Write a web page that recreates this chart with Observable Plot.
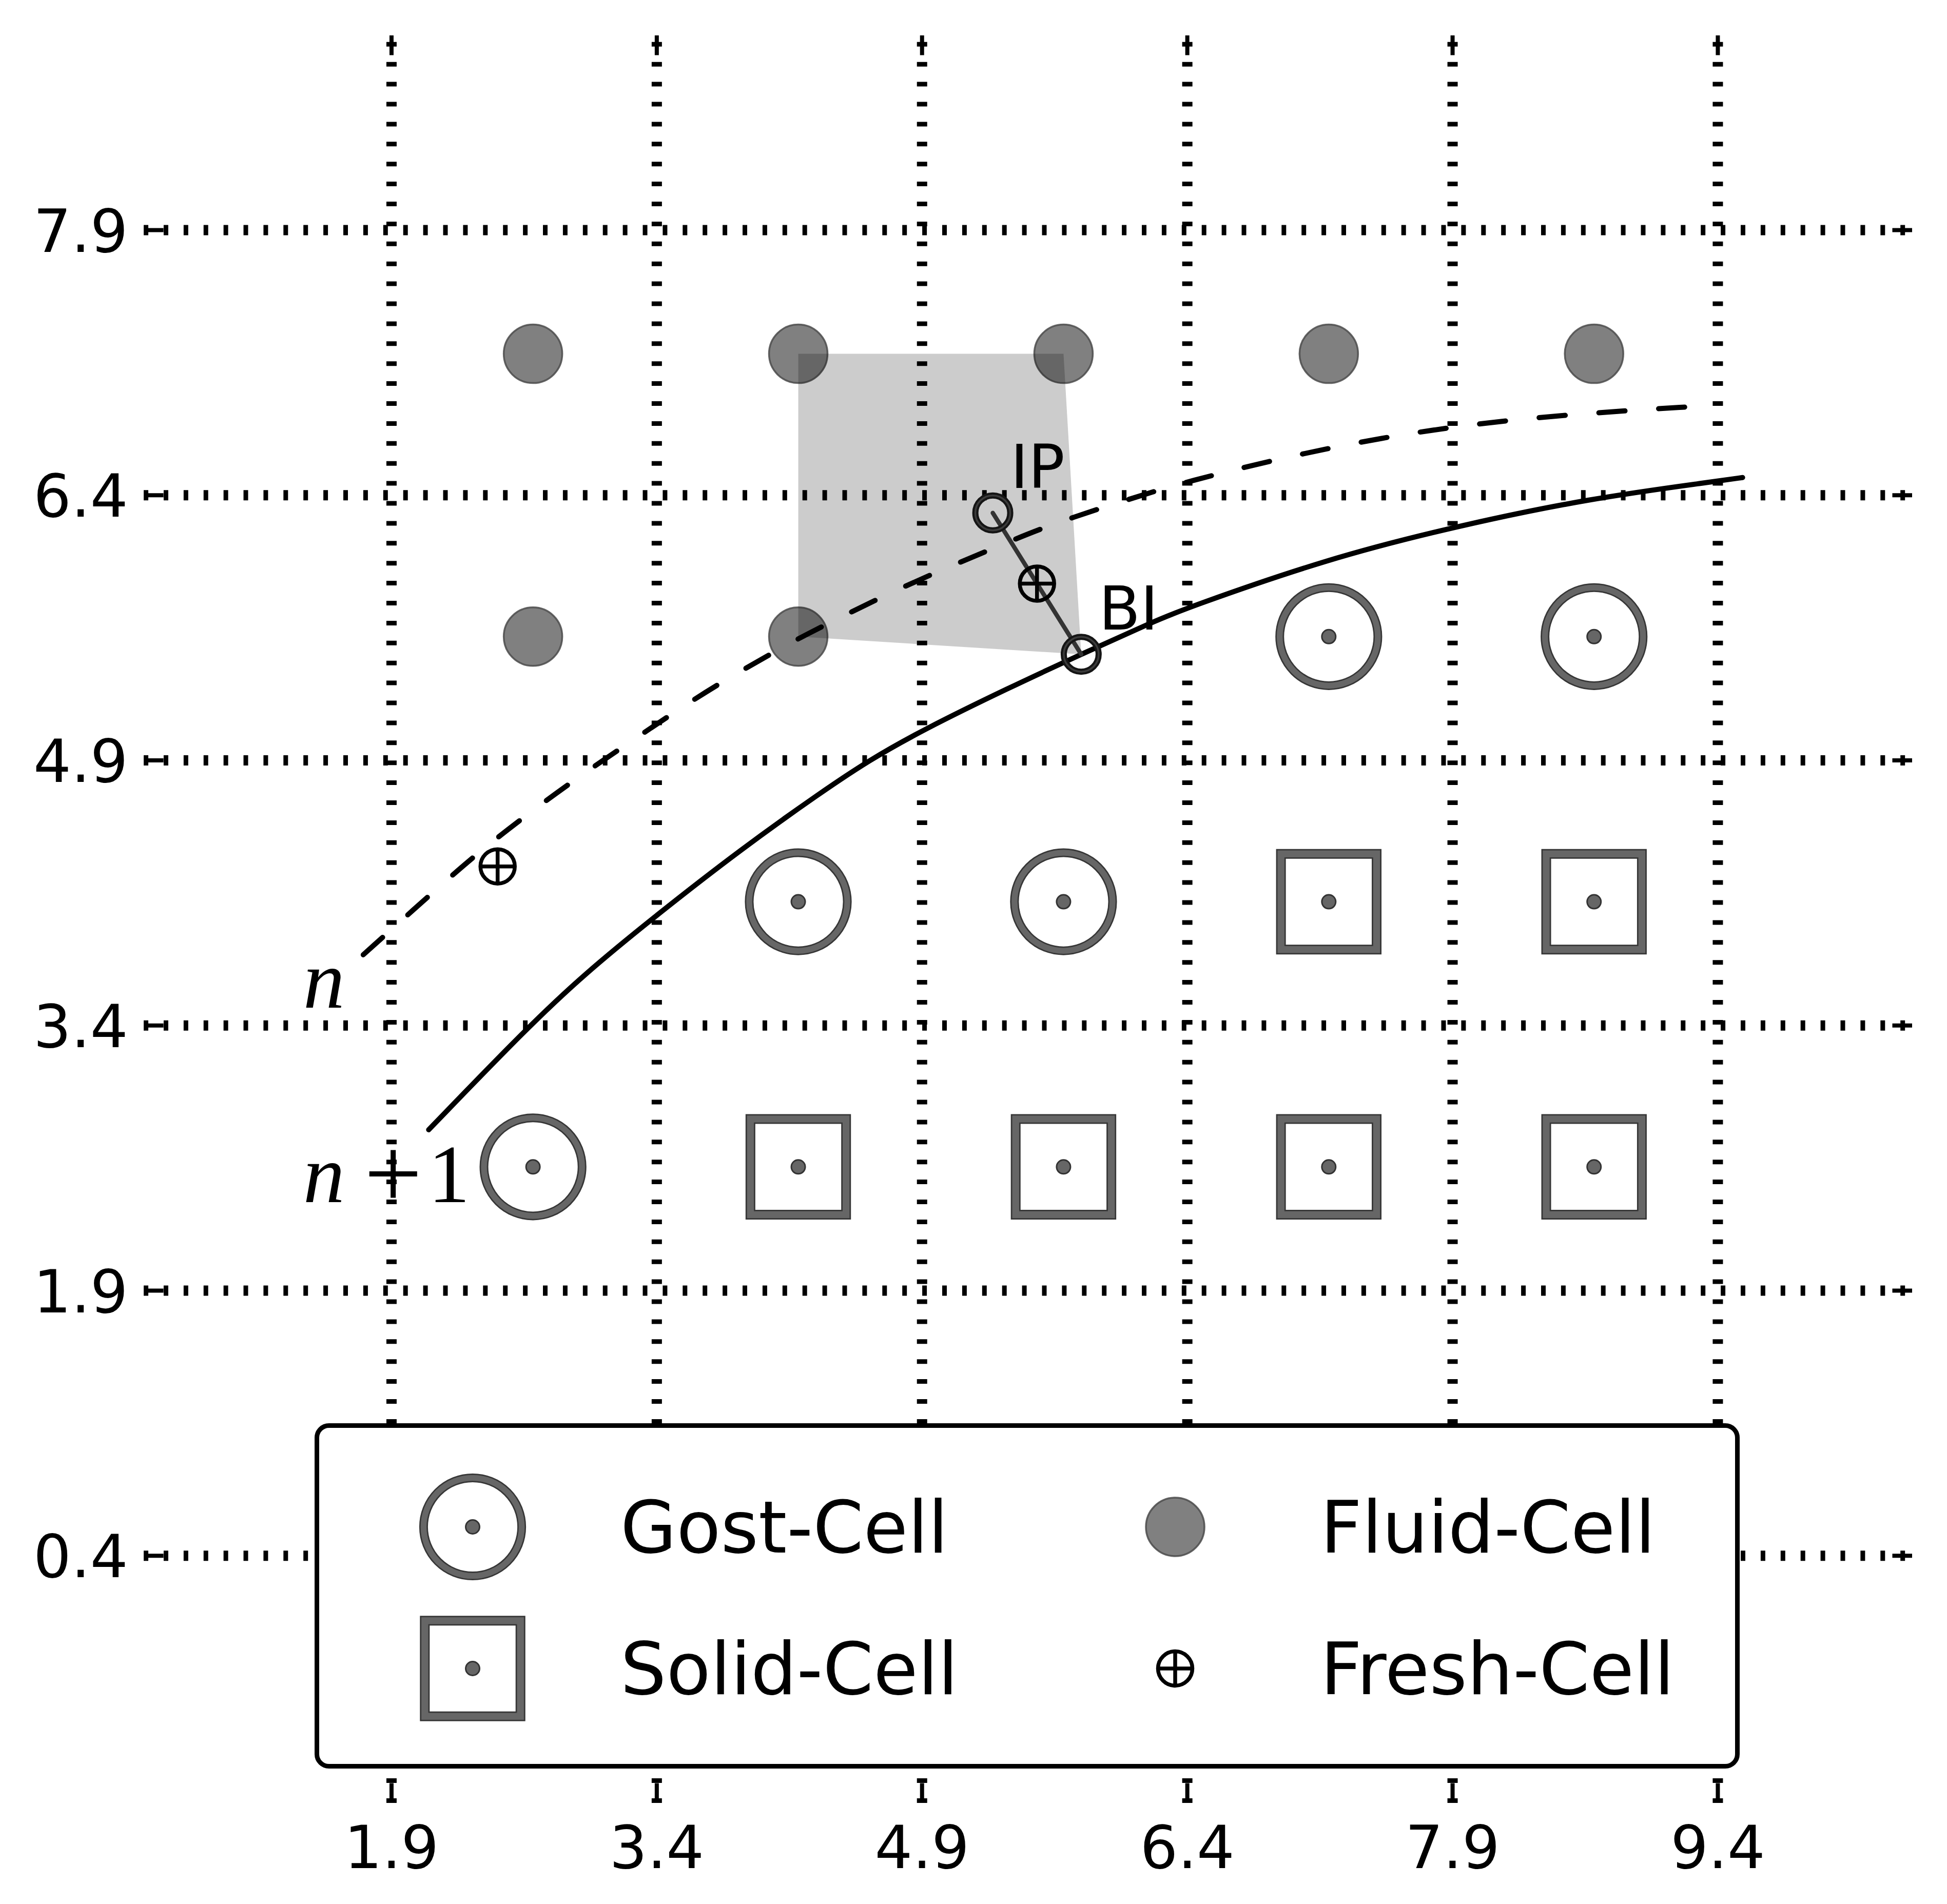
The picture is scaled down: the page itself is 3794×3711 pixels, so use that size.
<!DOCTYPE html>
<html>
<head>
<meta charset="utf-8">
<script src="https://cdn.jsdelivr.net/npm/d3@7"></script>
<script src="https://cdn.jsdelivr.net/npm/@observablehq/plot@0.6"></script>
<style>
html, body { margin: 0; padding: 0; background: #fff; overflow: hidden; }
#wrap { position: relative; width: 3794px; height: 3711px; }
#legend { position: absolute; left: 613px; top: 2774px; width: 2777px; height: 673px;
  box-sizing: border-box; border: 9px solid #000; border-radius: 28px; background: #fff; }
#legend svg { position: absolute; left: 0; top: 0; }
</style>
</head>
<body>
<div id="wrap"></div>
<script>
// ---------- data ----------
const xTicks = [1.9, 3.4, 4.9, 6.4, 7.9, 9.4];
const yTicks = [0.4, 1.9, 3.4, 4.9, 6.4, 7.9];
const xDomain = [0.5, 10.5];
const yDomain = [-1, 9];

const fluidX = [2.7, 4.2, 5.7, 7.2, 8.7, 2.7, 4.2];
const fluidY = [7.2, 7.2, 7.2, 7.2, 7.2, 5.6, 5.6];
const ghostX = [7.2, 8.7, 4.2, 5.7, 2.7];
const ghostY = [5.6, 5.6, 4.1, 4.1, 2.6];
const solidX = [7.2, 8.7, 4.2, 5.7, 7.2, 8.7];
const solidY = [4.1, 4.1, 2.6, 2.6, 2.6, 2.6];
const freshX = [2.5, 5.55];
const freshY = [4.3, 5.9];
const probeNames = ["IP", "BI"];
const probeX = [5.3, 5.8];
const probeY = [6.3, 5.5];
const probeLabelX = [5.4, 5.9];
const probeLabelY = [6.44, 5.64];
const stencilX = [4.2, 5.7, 5.8, 4.2];
const stencilY = [7.2, 7.2, 5.5, 5.6];

// interface at time n (dashed)
const curveNX = [1.74, 2.13, 2.38, 2.65, 2.92, 3.20, 3.48, 3.76, 4.06, 4.20, 4.66, 4.97, 5.28, 5.59, 5.92, 6.24, 6.38, 6.88, 7.56, 8.23, 8.90, 9.24];
const curveNY = [3.80, 4.15, 4.37, 4.58, 4.78, 4.97, 5.16, 5.34, 5.51, 5.59, 5.82, 5.96, 6.09, 6.22, 6.33, 6.43, 6.47, 6.60, 6.74, 6.83, 6.88, 6.90];
// interface at time n+1 (solid)
const curveN1X = [2.11, 2.67, 2.99, 3.38, 3.88, 4.33, 4.60, 4.90, 5.39, 5.80, 6.22, 6.39, 7.19, 7.90, 8.66, 9.40, 9.54];
const curveN1Y = [2.81, 3.39, 3.69, 4.01, 4.40, 4.72, 4.90, 5.07, 5.31, 5.50, 5.69, 5.76, 6.04, 6.22, 6.38, 6.48, 6.50];

const curveLabels = ["n", "n+1"];
const curveLabelX = [1.4, 1.4];
const curveLabelY = [3.5, 2.4];

const legendLabels = ["Gost-Cell", "Fluid-Cell", "Solid-Cell", "Fresh-Cell"];
const legendKinds = ["ghost", "fluid", "solid", "fresh"];

// ---------- helpers ----------
const zipXY = (xs, ys) => xs.map((x, i) => ({x, y: ys[i]}));
const fluid = zipXY(fluidX, fluidY);
const ghost = zipXY(ghostX, ghostY);
const solid = zipXY(solidX, solidY);
const fresh = zipXY(freshX, freshY);
const probes = probeNames.map((name, i) => ({name, x: probeX[i], y: probeY[i], lx: probeLabelX[i], ly: probeLabelY[i]}));
const stencil = zipXY(stencilX, stencilY);
const curveN = zipXY(curveNX, curveNY);
const curveN1 = zipXY(curveN1X, curveN1Y);
const curveText = curveLabels.map((label, i) => ({label, x: curveLabelX[i], y: curveLabelY[i]}));

const oplus = {
  draw(context, size) {
    const r = Math.sqrt(size / Math.PI);
    context.moveTo(r, 0);
    context.arc(0, 0, r, 0, 2 * Math.PI);
    context.moveTo(-r, 0); context.lineTo(r, 0);
    context.moveTo(0, -r); context.lineTo(0, r);
  }
};

const W = 3794, H = 3711;
const mL = 280, mR = 68, mT = 69, mB = 197;
const plotW = W - mL - mR, plotH = H - mT - mB;
const tickLen = 38.5;
const ringR = 95.6;
const squareSide = 186.4;
const squareR = squareSide / Math.sqrt(Math.PI);
const fmt = d => d.toFixed(1);
const gridDash = "9,29.9";

const chart = Plot.plot({
  width: W, height: H,
  marginLeft: mL, marginRight: mR, marginTop: mT, marginBottom: mB,
  x: {domain: xDomain},
  y: {domain: yDomain},
  style: {background: "white", color: "black", fontFamily: "DejaVu Sans"},
  marks: [
    // dotted grid
    Plot.ruleY(yTicks, {stroke: "black", strokeWidth: 20, strokeDasharray: gridDash}),
    Plot.ruleX(xTicks, {stroke: "black", strokeWidth: 20, strokeDasharray: gridDash, strokeDashoffset: -12.8}),
    // inward ticks on all four sides
    Plot.tickY(yTicks, {stroke: "black", strokeWidth: 8, insetRight: plotW - tickLen}),
    Plot.tickY(yTicks, {stroke: "black", strokeWidth: 8, insetLeft: plotW - tickLen}),
    Plot.tickX(xTicks, {stroke: "black", strokeWidth: 8, insetBottom: plotH - tickLen}),
    Plot.tickX(xTicks, {stroke: "black", strokeWidth: 8, insetTop: plotH - tickLen}),
    // tick labels
    Plot.axisX(xTicks, {anchor: "bottom", tickSize: 0, tickPadding: 44, fontSize: 116, label: null, tickFormat: fmt}),
    Plot.axisY(yTicks, {anchor: "left", tickSize: 0, tickPadding: 31, fontSize: 116, label: null, tickFormat: fmt, dy: 5}),
    // fluid cells
    Plot.dot(fluid, {x: "x", y: "y", r: 57, fill: "#808080", stroke: "#4a4a4a", strokeWidth: 3.5, strokeOpacity: 0.85}),
    // interpolation stencil
    Plot.line(stencil, {x: "x", y: "y", fill: "black", fillOpacity: 0.2, stroke: "none"}),
    // ghost cells
    Plot.dot(ghost, {x: "x", y: "y", r: ringR, fill: "white", stroke: "#363636", strokeWidth: 17}),
    Plot.dot(ghost, {x: "x", y: "y", r: ringR, fill: "none", stroke: "#666", strokeWidth: 11.5}),
    Plot.dot(ghost, {x: "x", y: "y", r: 13.5, fill: "#666", stroke: "#333", strokeWidth: 3}),
    // solid cells
    Plot.dot(solid, {x: "x", y: "y", symbol: "square", r: squareR, fill: "white", stroke: "#363636", strokeWidth: 19}),
    Plot.dot(solid, {x: "x", y: "y", symbol: "square", r: squareR, fill: "none", stroke: "#666", strokeWidth: 13.5}),
    Plot.dot(solid, {x: "x", y: "y", r: 13.5, fill: "#666", stroke: "#333", strokeWidth: 3}),
    // interfaces
    Plot.line(curveN, {x: "x", y: "y", curve: "basis", stroke: "black", strokeWidth: 10, strokeLinecap: "round", strokeDasharray: "51,65.7"}),
    Plot.line(curveN1, {x: "x", y: "y", curve: "basis", stroke: "black", strokeWidth: 10, strokeLinecap: "round"}),
    // IP - BI probe
    Plot.line(probes, {x: "x", y: "y", stroke: "#333", strokeWidth: 8.5}),
    Plot.dot(probes, {x: "x", y: "y", r: 34, fill: "none", stroke: "#151515", strokeWidth: 12}),
    Plot.dot(probes, {x: "x", y: "y", r: 34, fill: "none", stroke: "#3c3c3c", strokeWidth: 3.5}),
    // fresh cells
    Plot.dot(fresh, {x: "x", y: "y", symbol: oplus, r: 33.5, fill: "none", stroke: "black", strokeWidth: 7.5}),
    // labels
    Plot.text(probes, {x: "lx", y: "ly", text: "name", textAnchor: "start", lineAnchor: "bottom", fontSize: 118, fill: "black", fontFamily: "DejaVu Sans"}),
    Plot.text(curveText, {x: "x", y: "y", text: "label", textAnchor: "start", lineAnchor: "bottom", fontSize: 162, fill: "black", fontFamily: "Liberation Serif", fontStyle: "italic"})
  ]
});

// math-style labels: italic variable, upright "+1"
d3.select(chart).selectAll("text").each(function () {
  if (this.textContent === "n+1") {
    const sel = d3.select(this);
    sel.text(null);
    sel.append("tspan").attr("font-style", "italic").text("n");
    sel.append("tspan").attr("font-style", "normal").attr("font-size", 200).attr("dx", 38).attr("dy", 11).text("+");
    sel.append("tspan").attr("font-style", "normal").attr("font-size", 162).attr("dx", 12).attr("dy", -11).text("1");
  }
});

document.getElementById("wrap").appendChild(chart);

// ---------- legend (in-axes, lower centre) ----------
const legendDiv = document.createElement("div");
legendDiv.id = "legend";
document.getElementById("wrap").appendChild(legendDiv);
const lg = d3.select(legendDiv).append("svg").attr("width", 2759).attr("height", 655);
const colMarkerX = [299, 1668], colTextX = [587, 1951], rowY = [193, 469];
legendLabels.forEach((label, i) => {
  const col = i % 2, row = Math.floor(i / 2), kind = legendKinds[i];
  const g = lg.append("g").attr("transform", `translate(${colMarkerX[col]},${rowY[row]})`);
  if (kind === "ghost") {
    g.append("circle").attr("r", ringR).attr("fill", "white").attr("stroke", "#363636").attr("stroke-width", 17);
    g.append("circle").attr("r", ringR).attr("fill", "none").attr("stroke", "#666").attr("stroke-width", 11.5);
    g.append("circle").attr("r", 13.5).attr("fill", "#666").attr("stroke", "#333").attr("stroke-width", 3);
  } else if (kind === "solid") {
    const s = squareSide;
    g.append("rect").attr("x", -s / 2).attr("y", -s / 2).attr("width", s).attr("height", s).attr("fill", "white").attr("stroke", "#363636").attr("stroke-width", 19);
    g.append("rect").attr("x", -s / 2).attr("y", -s / 2).attr("width", s).attr("height", s).attr("fill", "none").attr("stroke", "#666").attr("stroke-width", 13.5);
    g.append("circle").attr("r", 13.5).attr("fill", "#666").attr("stroke", "#333").attr("stroke-width", 3);
  } else if (kind === "fluid") {
    g.append("circle").attr("r", 57).attr("fill", "#808080").attr("stroke", "#4a4a4a").attr("stroke-width", 3.5).attr("stroke-opacity", 0.85);
  } else {
    g.append("path").attr("d", d3.symbol(oplus, 33.5 * 33.5 * Math.PI)()).attr("fill", "none").attr("stroke", "black").attr("stroke-width", 7.5);
  }
  lg.append("text").attr("x", colTextX[col]).attr("y", rowY[row] + 50.4)
    .attr("font-family", "DejaVu Sans").attr("font-size", 141).attr("fill", "black").text(label);
});
</script>
</body>
</html>
